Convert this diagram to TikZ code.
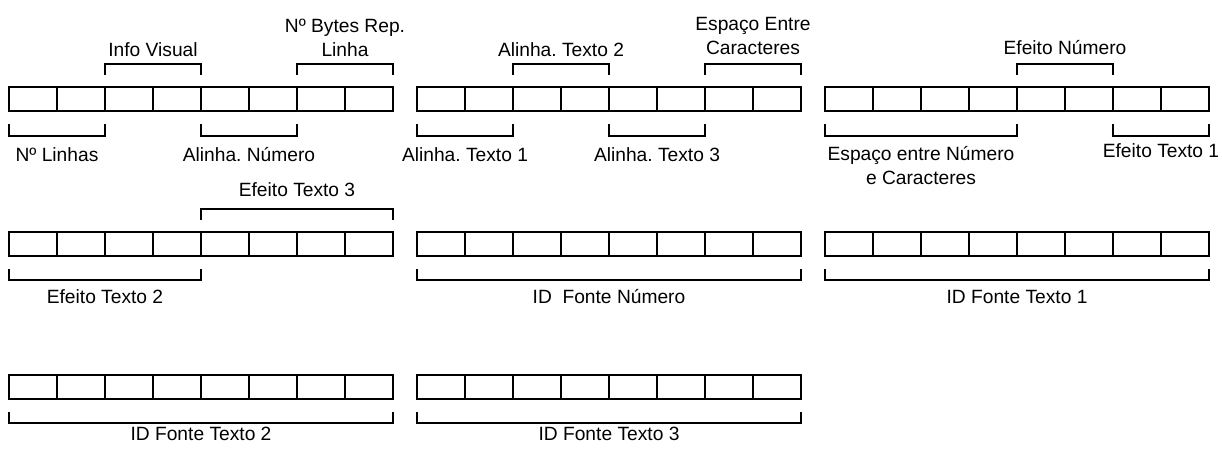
\documentclass[tikz,border=0pt]{standalone}
\usepackage{fontspec}
\setmainfont{Liberation Sans}
\frenchspacing
\begin{document}
\begin{tikzpicture}[x=1pt,y=-1pt,
  cell/.style={draw,line width=1.2pt,minimum width=48pt,minimum height=24pt,inner sep=0pt,outer sep=0pt,anchor=north west},
  brk/.style={line width=1.1pt},
  lbl/.style={font=\fontsize{19.2}{23.5}\selectfont,anchor=base,inner sep=0pt,align=center}]
\useasboundingbox (0,0) rectangle (1222,450);
% groups of 8 cells
\foreach \g/\x/\y in {a/9/87,b/417/87,c/825/87,d/9/232,e/417/232,f/825/232,g/9/375,h/417/375}{
  \foreach \k in {1,...,8}{
    \node[cell] (\g\k) at ({\x+48*(\k-1)},\y) {};
  }
}
% brackets
\newcommand{\brabove}[2]{\draw[brk] ([yshift=12pt]#1.north west) |- ([yshift=23pt]#2.north east) -- ([yshift=12pt]#2.north east);}
\newcommand{\brbelow}[3]{\draw[brk] ([yshift=-13pt]#1.south west) |- ([yshift=-#3pt]#2.south east) -- ([yshift=-13pt]#2.south east);}
\brabove{a3}{a4}
\brabove{a7}{a8}
\brabove{b3}{b4}
\brabove{b7}{b8}
\brabove{c5}{c6}
\brbelow{a1}{a2}{25}
\brbelow{a5}{a6}{25}
\brbelow{b1}{b2}{25}
\brbelow{b5}{b6}{25}
\brbelow{c1}{c4}{25}
\brbelow{c7}{c8}{25}
\brabove{d5}{d8}
\brbelow{d1}{d4}{24}
\brbelow{e1}{e8}{24}
\brbelow{f1}{f8}{24}
\brbelow{g1}{g8}{24}
\brbelow{h1}{h8}{24}
% labels
\node[lbl] (l1) at (153,56) {Info Visual};
\node[lbl] (l2) at (345,56) {Nº Bytes Rep.\\Linha};
\node[lbl] (l3) at (561,56) {Alinha. Texto 2};
\node[lbl] (l4) at (753,54) {Espaço Entre\\Caracteres};
\node[lbl] (l5) at (1065,54) {Efeito Número};
\node[lbl] (l6) at (57,161) {Nº Linhas};
\node[lbl] (l7) at (249,161) {Alinha. Número};
\node[lbl] (l8) at (465,161) {Alinha. Texto 1};
\node[lbl] (l9) at (657,161) {Alinha. Texto 3};
\node[lbl] (l10) at (921,184) {Espaço entre Número\\e Caracteres};
\node[lbl] (l11) at (1161,157) {Efeito Texto 1};
\node[lbl] (l12) at (297,196) {Efeito Texto 3};
\node[lbl] (l13) at (105,303) {Efeito Texto 2};
\node[lbl] (l14) at (609,303) {ID\ \ Fonte Número};
\node[lbl] (l15) at (1017,303) {ID Fonte Texto 1};
\node[lbl] (l16) at (201,440) {ID Fonte Texto 2};
\node[lbl] (l17) at (609,440) {ID Fonte Texto 3};
\end{tikzpicture}
\end{document}
